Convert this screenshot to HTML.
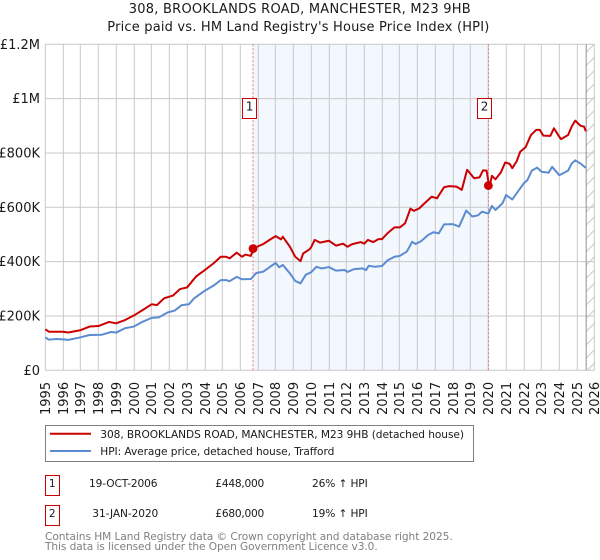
<!DOCTYPE html>
<html>
<head>
<meta charset="utf-8">
<style>
html,body{margin:0;padding:0;background:#fff;}
#wrap{position:relative;width:600px;height:560px;overflow:hidden;}
svg{display:block;font-family:"DejaVu Sans",sans-serif;}
</style>
</head>
<body>
<div id="wrap">
<svg id="chart" width="600" height="560" viewBox="0 0 600 560">
  <defs>
    <pattern id="hatch" patternUnits="userSpaceOnUse" width="13.3" height="13.3">
      <line x1="0" y1="13.3" x2="13.3" y2="0" stroke="#c8c8c8" stroke-width="1"/>
    </pattern>
  </defs>
  <text x="128.7" y="13" textLength="342" font-size="13" fill="#1a1a1a">308, BROOKLANDS ROAD, MANCHESTER, M23 9HB</text>
  <text x="107.3" y="31" textLength="382" font-size="13" fill="#1a1a1a">Price paid vs. HM Land Registry's House Price Index (HPI)</text>
  <g id="plot"></g>

  <g>
    <rect x="45.5" y="425.5" width="428" height="36" fill="#fff" stroke="#808080" stroke-width="1"/>
    <line x1="50" y1="433.8" x2="91" y2="433.8" stroke="#cc0000" stroke-width="2"/>
    <text x="100.3" y="438" textLength="363.7" font-size="10.6" fill="#1a1a1a">308, BROOKLANDS ROAD, MANCHESTER, M23 9HB (detached house)</text>
    <line x1="50" y1="451" x2="91" y2="451" stroke="#5b8bd0" stroke-width="2"/>
    <text x="100.3" y="455" textLength="234" font-size="10.6" fill="#1a1a1a">HPI: Average price, detached house, Trafford</text>
  </g>

  <g>
    <rect x="45.5" y="475.5" width="14" height="20" fill="#fff" stroke="#cc0000" stroke-width="1"/>
    <text x="52.3" y="487" text-anchor="middle" font-size="10.6" fill="#1a1a1a">1</text>
    <text x="89" y="487" textLength="68.5" font-size="10.6" fill="#1a1a1a">19-OCT-2006</text>
    <text x="215.3" y="487" textLength="49" font-size="10.6" fill="#1a1a1a">£448,000</text>
    <text x="312" y="487" textLength="55.7" font-size="10.6" fill="#1a1a1a">26% ↑ HPI</text>
  </g>
  <g>
    <rect x="45.5" y="505.5" width="14" height="20" fill="#fff" stroke="#cc0000" stroke-width="1"/>
    <text x="52.3" y="517" text-anchor="middle" font-size="10.6" fill="#1a1a1a">2</text>
    <text x="92.3" y="517" textLength="66" font-size="10.6" fill="#1a1a1a">31-JAN-2020</text>
    <text x="215.3" y="517" textLength="49" font-size="10.6" fill="#1a1a1a">£680,000</text>
    <text x="312" y="517" textLength="55.7" font-size="10.6" fill="#1a1a1a">19% ↑ HPI</text>
  </g>

  <text x="45" y="540" textLength="407.7" font-size="10.6" fill="#808080">Contains HM Land Registry data © Crown copyright and database right 2025.</text>
  <text x="45" y="550" textLength="332.7" font-size="10.6" fill="#808080">This data is licensed under the Open Government Licence v3.0.</text>
</svg>
</div>
<script>
var yearTicks = [1995,1996,1997,1998,1999,2000,2001,2002,2003,2004,2005,2006,2007,2008,2009,2010,2011,2012,2013,2014,2015,2016,2017,2018,2019,2020,2021,2022,2023,2024,2025,2026];
var valueTicks = [0,200,400,600,800,1000,1200];
var valueTickLabels = ['£0','£200K','£400K','£600K','£800K','£1M','£1.2M'];

var priceYears = [1995.0,1995.2,1996.0,1996.3,1997.0,1997.5,1998.0,1998.6,1999.0,1999.5,2000.0,2000.5,2001.0,2001.3,2001.7,2002.2,2002.6,2003.0,2003.5,2004.0,2004.5,2004.9,2005.2,2005.4,2005.8,2006.1,2006.3,2006.6,2006.75,2007.3,2007.7,2008.0,2008.3,2008.4,2008.8,2009.1,2009.4,2009.55,2009.9,2010.0,2010.2,2010.5,2011.0,2011.4,2011.8,2012.05,2012.3,2012.8,2013.0,2013.2,2013.5,2013.8,2014.0,2014.3,2014.7,2015.0,2015.3,2015.6,2015.8,2016.1,2016.4,2016.8,2017.1,2017.5,2017.8,2018.2,2018.5,2018.8,2019.2,2019.5,2019.7,2019.9,2020.0,2020.08,2020.2,2020.4,2020.7,2020.95,2021.2,2021.35,2021.6,2021.8,2022.1,2022.4,2022.7,2022.9,2023.1,2023.5,2023.7,2024.0,2024.1,2024.5,2024.7,2024.9,2025.2,2025.4,2025.5];
var priceValues = [151,142,142,139,148,161,163,178,173,185,202,222,243,240,265,275,299,305,345,369,394,418,418,412,433,418,426,421,449,465,482,494,482,492,455,418,402,430,445,453,480,470,477,459,466,455,464,472,466,480,472,483,483,504,526,526,541,595,587,596,615,639,633,674,678,676,664,738,707,710,736,735,695,680,716,703,728,765,760,744,770,805,821,866,885,885,864,863,891,860,851,866,897,919,900,897,880];

var hpiYears = [1995.0,1995.2,1995.6,1996.0,1996.3,1996.9,1997.5,1998.2,1998.7,1999.0,1999.5,2000.0,2000.5,2001.0,2001.4,2001.9,2002.3,2002.7,2003.1,2003.4,2004.0,2004.5,2004.9,2005.2,2005.4,2005.8,2006.1,2006.6,2006.9,2007.3,2007.7,2008.0,2008.2,2008.4,2008.8,2009.1,2009.4,2009.7,2010.0,2010.3,2010.6,2011.0,2011.4,2011.9,2012.05,2012.4,2012.9,2013.1,2013.25,2013.6,2014.0,2014.3,2014.7,2015.0,2015.4,2015.7,2015.9,2016.2,2016.6,2016.9,2017.2,2017.5,2018.0,2018.35,2018.75,2019.1,2019.4,2019.65,2020.0,2020.2,2020.4,2020.8,2021.0,2021.35,2021.7,2022.0,2022.2,2022.45,2022.75,2023.0,2023.4,2023.6,2024.0,2024.5,2024.7,2024.9,2025.2,2025.5];
var hpiValues = [121,113,115,114,112,120,130,131,141,139,155,161,179,193,195,213,220,240,243,265,293,312,332,332,328,344,335,336,358,363,382,395,379,388,357,329,320,352,361,381,375,380,367,369,362,372,375,369,385,381,384,404,418,421,437,473,465,475,498,508,504,537,538,529,588,566,570,584,577,605,590,615,645,629,661,688,700,735,746,731,727,749,718,735,761,773,761,745];

var saleYears = [2006.72,2020.0];
var saleValues = [448,680];
var saleLabels = ['1','2'];
var dataEndYear = 2025.52;

var NS = 'http://www.w3.org/2000/svg';
var plot = document.getElementById('plot');
function xScale(year){ return 45.3 + (year - 1995) * (594.7 - 45.3) / 31; }
function yScale(value){ return 370.3 - value * 326 / 1200; }
function make(tag, attrs, parent){
  var el = document.createElementNS(NS, tag);
  for (var k in attrs) el.setAttribute(k, attrs[k]);
  (parent || plot).appendChild(el);
  return el;
}
function snap(v){ return Math.round(v - 0.3) + 0.3; }

var band = make('rect', {x:xScale(saleYears[0]), y:yScale(1200), width:xScale(saleYears[1])-xScale(saleYears[0]), height:yScale(0)-yScale(1200), fill:'#f3f7fe'});



yearTicks.forEach(function(year){
  var x = snap(xScale(year));
  var g = make('line', {x1:x, x2:x, y1:yScale(1200), y2:yScale(0), stroke:'#c8c8c8', 'stroke-width':1});
  
  
  var t = make('text', {x:0, y:0, transform:'translate(' + (x + 4.6) + ',415) rotate(-90)', 'font-size':13, fill:'#1a1a1a'});
  t.textContent = year;
  
  
});

valueTicks.forEach(function(value, i){
  var y = yScale(value);
  var g = make('line', {x1:xScale(1995), x2:xScale(2026), y1:y, y2:y, stroke:'#c8c8c8', 'stroke-width':1});
  
  
  var t = make('text', {x:40, y:y + 4.6, 'text-anchor':'end', 'font-size':13, fill:'#1a1a1a'});
  t.textContent = valueTickLabels[i];
  
  
});

var hatch = make('rect', {x:xScale(dataEndYear), y:yScale(1200), width:xScale(2026)-xScale(dataEndYear), height:yScale(0)-yScale(1200), fill:'url(#hatch)'});


var endLine = make('line', {x1:xScale(dataEndYear), x2:xScale(dataEndYear), y1:yScale(1200), y2:yScale(0), stroke:'#909090', 'stroke-width':1});



saleYears.forEach(function(year){
  var x = xScale(year);
  var l = make('line', {x1:x, x2:x, y1:yScale(1200), y2:yScale(0), stroke:'#e8707a', 'stroke-width':1, 'stroke-dasharray':'2 2'});
  
  
});

function linePath(xs, ys){
  return xs.map(function(year, i){ return (i ? 'L' : 'M') + xScale(year).toFixed(2) + ' ' + yScale(ys[i]).toFixed(2); }).join('');
}
var hpiLine = make('path', {d:linePath(hpiYears, hpiValues), fill:'none', stroke:'#5b8bd0', 'stroke-width':2, 'stroke-linejoin':'round'});


var priceLine = make('path', {d:linePath(priceYears, priceValues), fill:'none', stroke:'#cc0000', 'stroke-width':2, 'stroke-linejoin':'round'});



saleYears.forEach(function(year, i){
  var x = xScale(year), y = yScale(saleValues[i]);
  var dot = make('circle', {cx:x, cy:y, r:4.4, fill:'#cc0000'});
  
  
  var box = make('rect', {x:Math.round(x) - 10.5, y:98.5, width:14, height:20, fill:'#fff', stroke:'#cc0000', 'stroke-width':1});
  
  
  var t = make('text', {x:Math.round(x) - 3.4, y:110.5, 'text-anchor':'middle', 'font-size':12, fill:'#1a1a1a'});
  t.textContent = saleLabels[i];
  
  
});
</script>
</body>
</html>
